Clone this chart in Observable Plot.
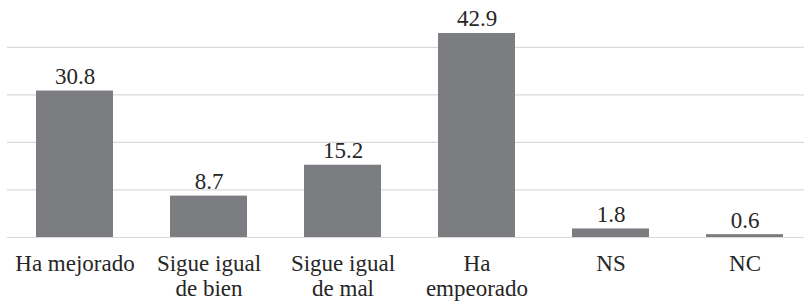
<!DOCTYPE html>
<html>
<head>
<meta charset="utf-8">
<script src="https://cdn.jsdelivr.net/npm/d3@7"></script>
<script src="https://cdn.jsdelivr.net/npm/@observablehq/plot@0.6"></script>
<style>
  html, body { margin: 0; padding: 0; background: #fff; }
</style>
</head>
<body>
<div id="chart"></div>
<script>
const categories = ["Ha mejorado", "Sigue igual de bien", "Sigue igual de mal", "Ha empeorado", "NS", "NC"];
const tickLabels = ["Ha mejorado", "Sigue igual\nde bien", "Sigue igual\nde mal", "Ha\nempeorado", "NS", "NC"];
const values = [30.8, 8.7, 15.2, 42.9, 1.8, 0.6];
const valueLabels = ["30.8", "8.7", "15.2", "42.9", "1.8", "0.6"];
const gridValues = [0, 10, 20, 30, 40];

const data = categories.map((c, i) => ({category: c, value: values[i], label: valueLabels[i]}));

const serif = "Liberation Serif, DejaVu Serif, serif";

const chart = Plot.plot({
  width: 804,
  height: 305,
  marginLeft: 7,
  marginRight: 0,
  marginTop: 23,
  marginBottom: 68,
  style: {fontFamily: serif, fontSize: "23px", color: "#262626", background: "#fff"},
  x: {type: "band", domain: categories, range: [7.1, 812.3], paddingInner: 0.426, paddingOuter: 0.213, align: 0.5},
  y: {domain: [0, 45], axis: null},
  marks: [
    Plot.ruleY(gridValues, {stroke: "#d9d9d9", strokeWidth: 1.2}),
    Plot.barY(data, {x: "category", y: "value", fill: "#7c7d81"}),
    Plot.text(data, {x: "category", y: "value", text: "label", lineAnchor: "bottom", dy: -7, fill: "#262626", fontSize: 23, fontFamily: serif, letterSpacing: 0.3}),
    Plot.axisX({tickSize: 0, tickPadding: 16, tickFormat: (d) => tickLabels[categories.indexOf(d)], lineHeight: 1.08, fontSize: 23, fontFamily: serif, fill: "#262626", label: null})
  ]
});
document.getElementById("chart").appendChild(chart);
</script>
</body>
</html>
